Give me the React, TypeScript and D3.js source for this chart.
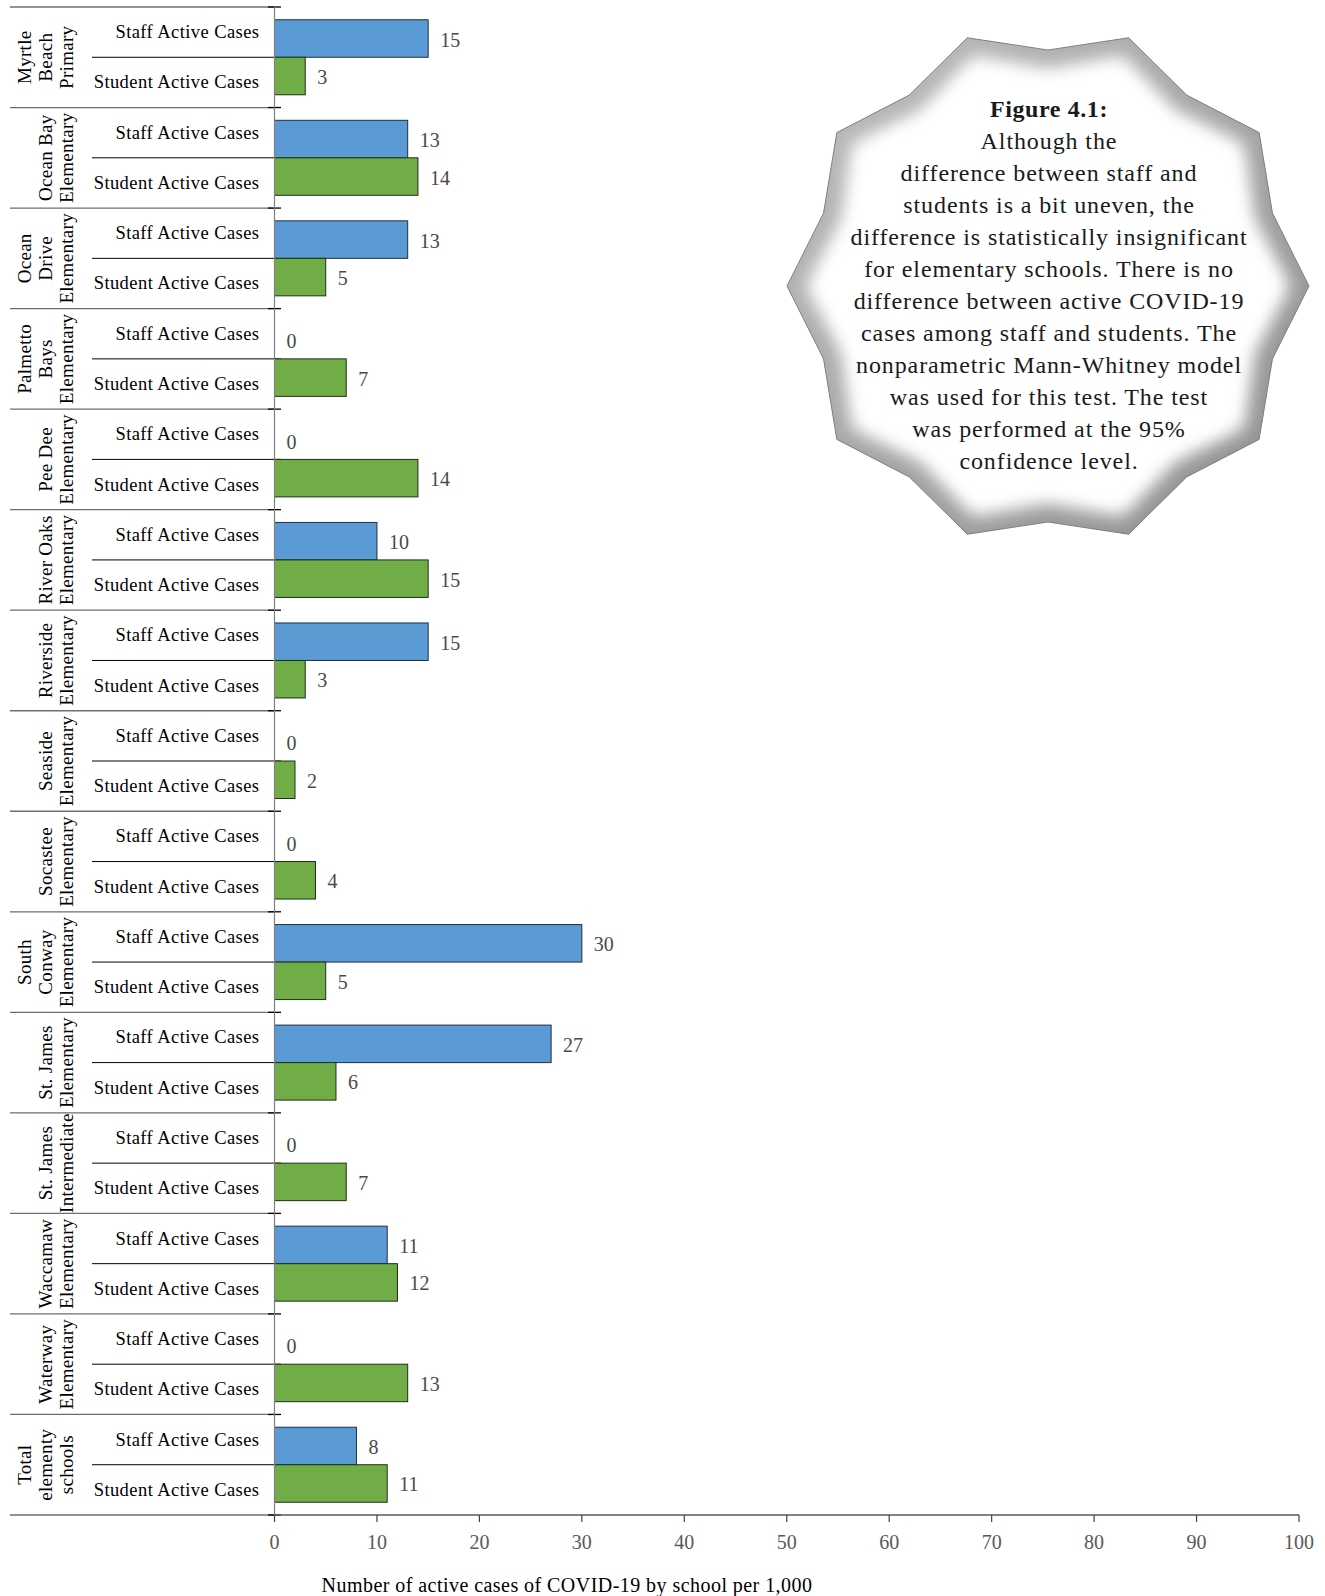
import React from "react";
import * as d3 from "d3";

const schools: string[][] = [
  ["Myrtle", "Beach", "Primary"],
  ["Ocean Bay", "Elementary"],
  ["Ocean", "Drive", "Elementary"],
  ["Palmetto", "Bays", "Elementary"],
  ["Pee Dee", "Elementary"],
  ["River Oaks", "Elementary"],
  ["Riverside", "Elementary"],
  ["Seaside", "Elementary"],
  ["Socastee", "Elementary"],
  ["South", "Conway", "Elementary"],
  ["St. James", "Elementary"],
  ["St. James", "Intermediate"],
  ["Waccamaw", "Elementary"],
  ["Waterway", "Elementary"],
  ["Total", "elementy", "schools"],
];
const staffCases = [15, 13, 13, 0, 0, 10, 15, 0, 0, 30, 27, 0, 11, 0, 8];
const studentCases = [3, 14, 5, 7, 14, 15, 3, 2, 4, 5, 6, 7, 12, 13, 11];
const seriesNames = ["Staff Active Cases", "Student Active Cases"];
const xTicks = [0, 10, 20, 30, 40, 50, 60, 70, 80, 90, 100];
const axisTitle = "Number of active cases of COVID-19 by school per 1,000";
const noteTitle = "Figure 4.1:";
const noteLines = [
  "Although the",
  "difference between staff and",
  "students is a bit uneven, the",
  "difference is statistically insignificant",
  "for elementary schools. There is no",
  "difference between active COVID-19",
  "cases among staff and students. The",
  "nonparametric Mann-Whitney model",
  "was used for this test. The test",
  "was performed at the 95%",
  "confidence level.",
];

const W = 1325;
const H = 1596;
const FONT = "'Liberation Serif', 'Times New Roman', serif";
const BLUE = "#5B9BD5";
const GREEN = "#70AD47";

export default function App() {
  const top = 7;
  const bottom = 1515;
  const x = d3.scaleLinear().domain([0, 100]).range([274.5, 1299]);
  const keys = schools.map((s) => s.join(" "));
  const yGroup = d3.scaleBand<string>().domain(keys).range([top, bottom]).padding(0);
  const yInner = d3
    .scaleBand<string>()
    .domain(seriesNames)
    .range([0, yGroup.bandwidth()])
    .padding(0);
  const bw = yInner.bandwidth();
  const barH = bw * 0.746;

  // star
  const cx = 1048;
  const cy = 286;
  const starPts = (ro: number, ri: number) =>
    d3
      .range(20)
      .map((i) => {
        const a = (i * Math.PI) / 10;
        const r = i % 2 === 0 ? ro : ri;
        return `${cx + r * Math.cos(a)},${cy + r * Math.sin(a)}`;
      })
      .join(" ");

  const boundaries: number[] = [];
  keys.forEach((k) => boundaries.push(yGroup(k)!));
  boundaries.push(bottom);

  return (
    <svg
      width={W}
      height={H}
      style={{ position: "absolute", left: 0, top: 0, background: "#fff" }}
      fontFamily={FONT}
    >
      <defs>
        <filter id="blurIn" x="-20%" y="-20%" width="140%" height="140%">
          <feGaussianBlur stdDeviation="9" />
        </filter>
        <linearGradient id="edgeGrad" x1="0" y1="0" x2="1" y2="1">
          <stop offset="0%" stopColor="#bdbdbd" />
          <stop offset="100%" stopColor="#8e8e8e" />
        </linearGradient>
        <clipPath id="starClip">
          <polygon points={starPts(261, 236)} />
        </clipPath>
      </defs>

      {/* star note */}
      <g>
        <polygon points={starPts(261, 236)} fill="url(#edgeGrad)" />
        <g clipPath="url(#starClip)">
          <polygon points={starPts(242, 217)} fill="#ffffff" filter="url(#blurIn)" />
          <polygon points={starPts(228, 204)} fill="#ffffff" filter="url(#blurIn)" />
        </g>
        <polygon points={starPts(261, 236)} fill="none" stroke="#808080" strokeWidth={1} />
        <text
          x={cx + 1}
          y={109}
          textAnchor="middle"
          dominantBaseline="central"
          fontSize={24}
          fontWeight="bold"
          letterSpacing={0.6}
          fill="#1a1a1a"
        >
          {noteTitle}
        </text>
        {noteLines.map((l, i) => (
          <text
            key={i}
            x={cx + 1}
            y={109 + (i + 1) * 32}
            textAnchor="middle"
            dominantBaseline="central"
            fontSize={24}
            letterSpacing={0.9}
            fill="#1a1a1a"
          >
            {l}
          </text>
        ))}
      </g>

      {/* group separators */}
      {boundaries.map((b, i) => (
        <g key={"gb" + i}>
          <line x1={10} x2={274.5} y1={b} y2={b} stroke="#6e6e6e" strokeWidth={1.3} />
          <line x1={268} x2={281} y1={b} y2={b} stroke="#000" strokeWidth={1.3} />
        </g>
      ))}
      {keys.map((k, i) => {
        const yb = yGroup(k)! + yInner(seriesNames[1])!;
        return (
          <g key={"ib" + i}>
            <line x1={92} x2={281} y1={yb} y2={yb} stroke="#000" strokeWidth={1} />
          </g>
        );
      })}

      {/* category labels */}
      {keys.map((k, i) => (
        <g key={"cl" + i}>
          {seriesNames.map((s) => (
            <text
              key={s}
              x={259.5}
              y={yGroup(k)! + yInner(s)! + bw / 2}
              textAnchor="end"
              dominantBaseline="central"
              fontSize={18.5}
              letterSpacing={0.43}
              fill="#000"
            >
              {s}
            </text>
          ))}
        </g>
      ))}

      {/* school labels (rotated) */}
      {schools.map((lines, i) => {
        const yc = yGroup(keys[i])! + yGroup.bandwidth() / 2;
        const n = lines.length;
        return (
          <g key={"sl" + i}>
            {lines.map((l, j) => {
              const bx = 73 - (n - 1 - j) * 21;
              return (
                <text
                  key={j}
                  transform={`translate(${bx},${yc}) rotate(-90)`}
                  textAnchor="middle"
                  fontSize={19}
                  letterSpacing={0.3}
                  fill="#000"
                >
                  {l}
                </text>
              );
            })}
          </g>
        );
      })}

      {/* bars */}
      {keys.map((k, i) => {
        const g0 = yGroup(k)!;
        const sy = g0 + yInner(seriesNames[0])! + bw - barH;
        const ty = g0 + yInner(seriesNames[1])!;
        return (
          <g key={"b" + i}>
            {staffCases[i] > 0 && (
              <rect
                x={x(0)}
                y={sy}
                width={x(staffCases[i]) - x(0)}
                height={barH}
                fill={BLUE}
                stroke="#1f2f3f"
                strokeWidth={1}
              />
            )}
            {studentCases[i] > 0 && (
              <rect
                x={x(0)}
                y={ty}
                width={x(studentCases[i]) - x(0)}
                height={barH}
                fill={GREEN}
                stroke="#1f2f1a"
                strokeWidth={1}
              />
            )}
            <text
              x={x(staffCases[i]) + 12}
              y={sy + barH / 2 + 1}
              dominantBaseline="central"
              fontSize={20}
              fill="#4a4a4a"
            >
              {staffCases[i]}
            </text>
            <text
              x={x(studentCases[i]) + 12}
              y={ty + barH / 2 + 1}
              dominantBaseline="central"
              fontSize={20}
              fill="#4a4a4a"
            >
              {studentCases[i]}
            </text>
          </g>
        );
      })}

      {/* vertical axis */}
      <line x1={x(0)} x2={x(0)} y1={top} y2={bottom} stroke="#808080" strokeWidth={1.2} />

      {/* bottom axis */}
      <line x1={x(0)} x2={x(100)} y1={bottom} y2={bottom} stroke="#595959" strokeWidth={1.3} />
      {xTicks.map((t) => (
        <g key={"t" + t}>
          <line x1={x(t)} x2={x(t)} y1={bottom} y2={bottom + 7} stroke="#404040" strokeWidth={1.2} />
          <text
            x={x(t)}
            y={bottom + 27}
            textAnchor="middle"
            dominantBaseline="central"
            fontSize={20}
            fill="#595959"
          >
            {t}
          </text>
        </g>
      ))}
      <text
        x={567}
        y={1585}
        textAnchor="middle"
        dominantBaseline="central"
        fontSize={20}
        letterSpacing={0.45}
        fill="#000"
      >
        {axisTitle}
      </text>
    </svg>
  );
}
